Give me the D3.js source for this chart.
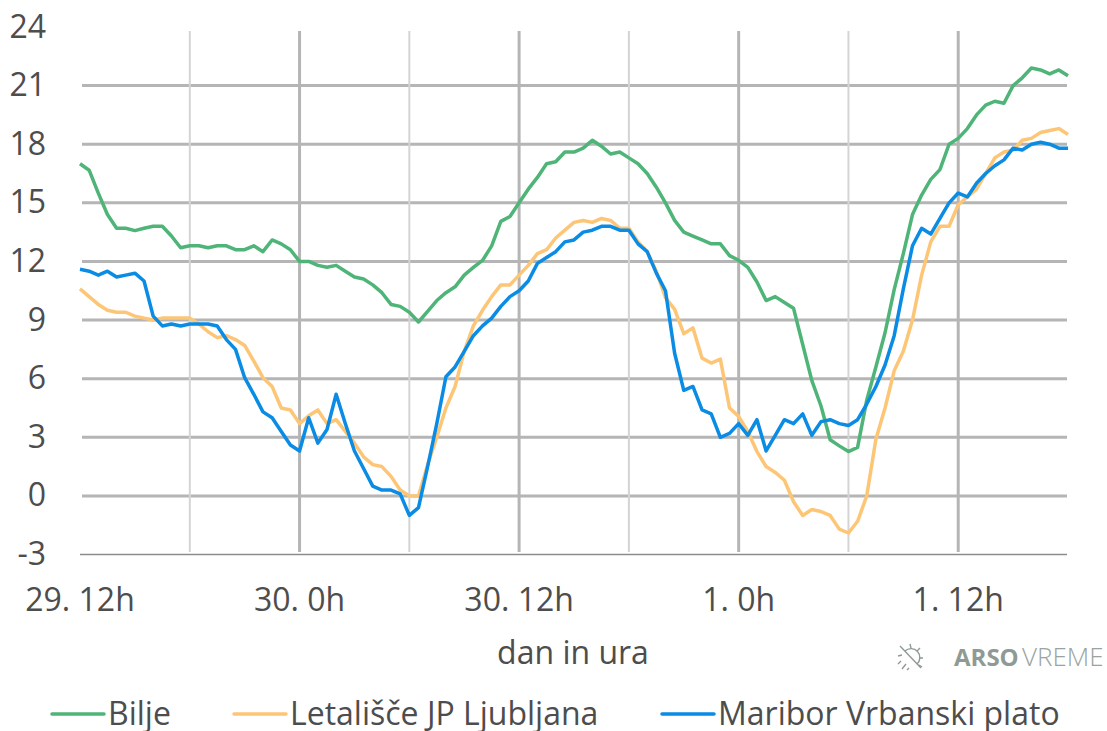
<!DOCTYPE html>
<html>
<head>
<meta charset="utf-8">
<script src="https://cdn.jsdelivr.net/npm/d3@7"></script>
<style>
  body { margin: 0; background: #fff; }
  text { font-family: "Open Sans", sans-serif; fill: #4d4d4d; }
</style>
</head>
<body>
<svg id="chart" width="1107" height="731"></svg>
<script>
// half-hour readings, 29. 12h -> 1. 18h
const bilje = [
  17.0, 16.67, 15.5, 14.4, 13.7, 13.7, 13.58, 13.7, 13.8, 13.8, 13.3, 12.7,
  12.8, 12.8, 12.7, 12.8, 12.8, 12.6, 12.6, 12.8, 12.5, 13.1, 12.9, 12.6,
  12.0, 12.0, 11.8, 11.7, 11.8, 11.5, 11.2, 11.1, 10.8, 10.4, 9.8, 9.7,
  9.4, 8.9, 9.45, 10.0, 10.4, 10.7, 11.3, 11.7, 12.05, 12.8, 14.05, 14.3,
  15.0, 15.7, 16.3, 17.0, 17.1, 17.6, 17.6, 17.8, 18.2, 17.9, 17.5, 17.6,
  17.3, 17.0, 16.5, 15.8, 15.0, 14.1, 13.5, 13.3, 13.1, 12.9, 12.9, 12.3,
  12.06, 11.7, 10.95, 10.0, 10.2, 9.9, 9.6, 7.75, 5.9, 4.6, 2.87, 2.56,
  2.27, 2.48, 4.9, 6.6, 8.35, 10.56, 12.4, 14.4, 15.4, 16.2, 16.7, 18.0,
  18.3, 18.8, 19.5, 20.0, 20.2, 20.1, 21.0, 21.4, 21.9, 21.8, 21.6, 21.8, 21.5
];
const ljubljana = [
  10.6, 10.2, 9.8, 9.5, 9.4, 9.4, 9.2, 9.1, 9.0, 9.1, 9.1, 9.1,
  9.1, 8.8, 8.4, 8.1, 8.2, 8.0, 7.7, 6.9, 6.05, 5.6, 4.5, 4.4,
  3.7, 4.1, 4.4, 3.7, 3.9, 3.3, 2.7, 2.0, 1.6, 1.5, 1.0, 0.3,
  0, 0, 1.6, 3.0, 4.5, 5.6, 7.4, 8.7, 9.5, 10.2, 10.8, 10.8,
  11.3, 11.8, 12.4, 12.6, 13.2, 13.6, 14.0, 14.1, 14.0, 14.2, 14.1, 13.7,
  13.7, 13.0, 12.5, 11.5, 10.15, 9.55, 8.3, 8.6, 7.05, 6.8, 7.0, 4.5,
  4.07, 3.3, 2.27, 1.5, 1.2, 0.8, -0.3, -1.0, -0.7, -0.8, -1.0, -1.7,
  -1.9, -1.3, 0, 2.9, 4.5, 6.4, 7.4, 9.0, 11.3, 13.0, 13.8, 13.8,
  14.9, 15.3, 15.7, 16.5, 17.3, 17.6, 17.7, 18.2, 18.3, 18.6, 18.7, 18.8, 18.5
];
const maribor = [
  11.6, 11.5, 11.3, 11.5, 11.2, 11.3, 11.4, 11.0, 9.2, 8.7, 8.8, 8.7,
  8.8, 8.8, 8.8, 8.7, 8.0, 7.5, 6.05, 5.2, 4.3, 4.0, 3.3, 2.6,
  2.3, 4.0, 2.7, 3.4, 5.2, 3.7, 2.3, 1.4, 0.5, 0.3, 0.3, 0.1,
  -1.0, -0.6, 1.5, 3.7, 6.1, 6.6, 7.4, 8.2, 8.7, 9.1, 9.7, 10.2,
  10.5, 11.0, 11.9, 12.2, 12.5, 13.0, 13.1, 13.5, 13.6, 13.8, 13.8, 13.6,
  13.6, 12.9, 12.5, 11.4, 10.5, 7.3, 5.4, 5.6, 4.4, 4.2, 3.0, 3.2,
  3.7, 3.1, 3.9, 2.3, 3.1, 3.9, 3.7, 4.2, 3.1, 3.8, 3.9, 3.7,
  3.6, 3.9, 4.7, 5.6, 6.7, 8.2, 10.6, 12.8, 13.7, 13.4, 14.2, 15.0,
  15.5, 15.3, 16.0, 16.5, 16.9, 17.2, 17.8, 17.7, 18.0, 18.1, 18.0, 17.8, 17.8
];
const seriesNames = ["Bilje", "Letališče JP Ljubljana", "Maribor Vrbanski plato"];
const seriesColors = ["#4fb477", "#fdc676", "#0a8ce4"];
const yTicks = [-3, 0, 3, 6, 9, 12, 15, 18, 21, 24];
const majorTicks = [0, 24, 48, 72, 96];
const minorTicks = [12, 36, 60, 84];
const majorLabels = ["29. 12h", "30. 0h", "30. 12h", "1. 0h", "1. 12h"];

const svg = d3.select("#chart");
const x = d3.scaleLinear().domain([0, 108]).range([80, 1068]);
const y = d3.scaleLinear().domain([-3, 24]).range([554.5, 27]);

// horizontal grid
svg.append("g")
  .selectAll("line")
  .data(yTicks.filter(d => d > -3 && d < 24))
  .join("line")
  .attr("x1", 82).attr("x2", 1067)
  .attr("y1", d => y(d)).attr("y2", d => y(d))
  .attr("stroke", "#b5b5b5").attr("stroke-width", 3);

// vertical grid, 12h lines are heavier than the 6h ones
svg.append("g")
  .selectAll("line")
  .data(minorTicks)
  .join("line")
  .attr("x1", d => x(d)).attr("x2", d => x(d))
  .attr("y1", 31).attr("y2", 552)
  .attr("stroke", "#d4d4d4").attr("stroke-width", 2);
svg.append("g")
  .selectAll("line")
  .data(majorTicks.slice(1))
  .join("line")
  .attr("x1", d => x(d)).attr("x2", d => x(d))
  .attr("y1", 31).attr("y2", 552)
  .attr("stroke", "#b5b5b5").attr("stroke-width", 3);

svg.append("line")
  .attr("x1", 80).attr("x2", 1067)
  .attr("y1", y(-3)).attr("y2", y(-3))
  .attr("stroke", "#8c8c8c").attr("stroke-width", 1.5);

// y labels
svg.append("g")
  .selectAll("text")
  .data(yTicks)
  .join("text")
  .attr("x", 46).attr("y", d => y(d) + 10.5)
  .attr("text-anchor", "end")
  .attr("font-size", 32)
  .text(d => d);

// x labels
svg.append("g")
  .selectAll("text")
  .data(majorTicks)
  .join("text")
  .attr("x", d => x(d)).attr("y", 611)
  .attr("text-anchor", "middle")
  .attr("font-size", 32)
  .text((d, i) => majorLabels[i]);

svg.append("text")
  .attr("x", 573).attr("y", 664)
  .attr("text-anchor", "middle")
  .attr("font-size", 32)
  .text("dan in ura");

const line = d3.line().x((d, i) => x(i)).y(d => y(d));
[bilje, ljubljana, maribor].forEach((s, i) => {
  svg.append("path")
    .datum(s)
    .attr("d", line)
    .attr("fill", "none")
    .attr("stroke", seriesColors[i])
    .attr("stroke-width", 3.5)
    .attr("stroke-linejoin", "round");
});

// legend
const legendX = [50, 232, 660];
const legend = svg.append("g")
  .selectAll("g")
  .data(seriesNames)
  .join("g")
  .attr("transform", (d, i) => `translate(${legendX[i]},714)`);
legend.append("line")
  .attr("x1", 2).attr("x2", 54)
  .attr("stroke", (d, i) => seriesColors[i])
  .attr("stroke-width", 3.5)
  .attr("stroke-linecap", "round");
legend.append("text")
  .attr("x", 58).attr("y", 11)
  .attr("font-size", 32)
  .text(d => d);

// watermark
const mark = svg.append("g").attr("transform", "translate(910,657)")
  .attr("stroke", "#8f9a95").attr("stroke-width", 1.4).attr("fill", "none");
mark.append("line").attr("x1", -10).attr("y1", -11).attr("x2", 11).attr("y2", 11);
mark.append("path").attr("d", "M-5,-6 A8,8 0 0 1 7,7");
mark.append("path").attr("d", "M0,-13 L1,-9 M10,-9 L7,-6 M13,1 L9,1 M12,10 L9,8 M-12,-1 L-8,-2 M-9,4 L-12,7 M-4,7 L-8,12 M-1,11 L-3,13");
svg.append("text")
  .attr("x", 954).attr("y", 666)
  .attr("font-size", 24)
  .style("fill", "#8f9a95")
  .style("font-weight", 700)
  .text("ARSO");
svg.append("text")
  .attr("x", 1022).attr("y", 666)
  .attr("font-size", 26)
  .style("fill", "#9aa3a0")
  .style("font-weight", 300)
  .text("VREME");
</script>
</body>
</html>
